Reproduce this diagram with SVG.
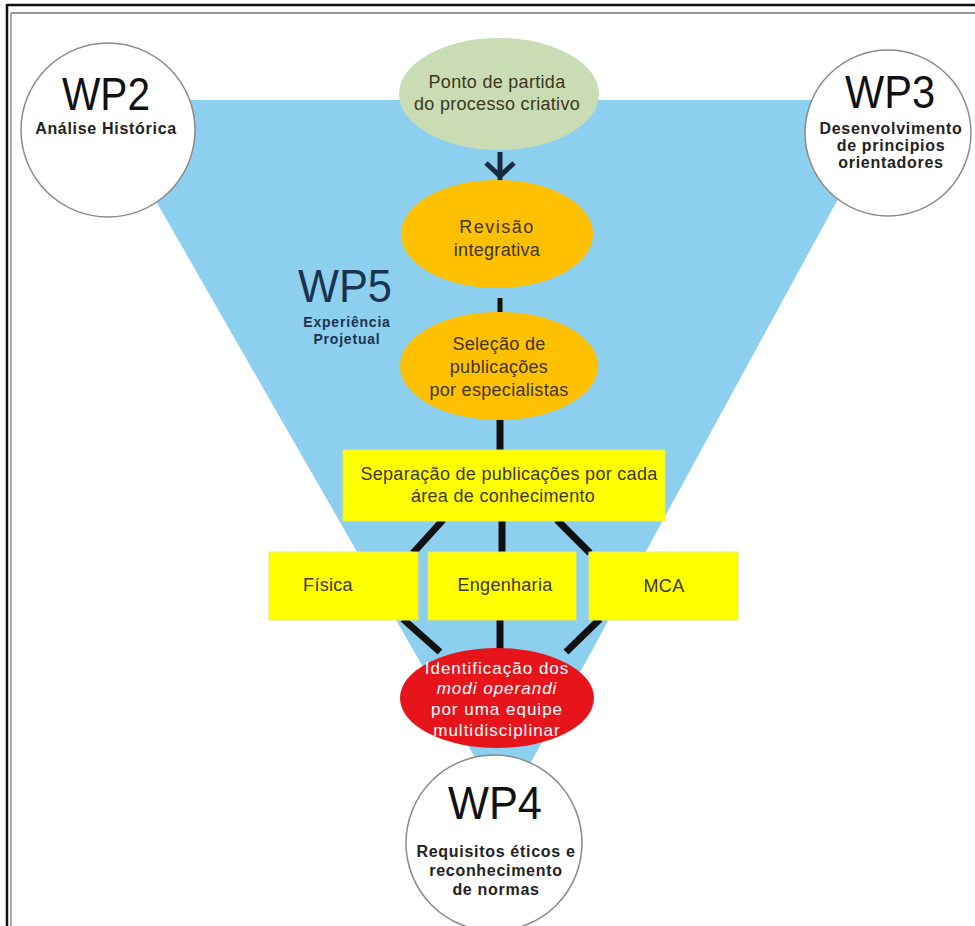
<svg xmlns="http://www.w3.org/2000/svg" width="975" height="926" viewBox="0 0 975 926">
<style>
.wp{font-family:"Liberation Sans",Arial,sans-serif;font-size:47px;fill:#111;text-anchor:middle}
.wps{font-family:"Liberation Sans",Arial,sans-serif;font-size:16px;font-weight:bold;fill:#222;text-anchor:middle;letter-spacing:0.7px}
.t{font-family:"Liberation Sans",Arial,sans-serif;font-size:18px;fill:#3f3620;text-anchor:middle;letter-spacing:0.3px}
.w{font-family:"Liberation Sans",Arial,sans-serif;font-size:17px;fill:#fff;text-anchor:middle;letter-spacing:1px}
.circ{fill:#fff;stroke:#8a8a8a;stroke-width:1.5}
.box{fill:#ffff00;stroke:#e8e860;stroke-width:1}
.ln{stroke:#111;stroke-width:7;fill:none}
</style>
<rect width="975" height="926" fill="#fff"/>
<g id="frame">
<line x1="7" y1="5" x2="975" y2="5" stroke="#111" stroke-width="2.5"/>
<line x1="7" y1="4" x2="7" y2="926" stroke="#111" stroke-width="2.5"/>
<line x1="11" y1="13" x2="975" y2="13" stroke="#999" stroke-width="2"/>
<line x1="11" y1="13" x2="11" y2="926" stroke="#aaa" stroke-width="2"/>
</g>
<g id="funnel"><polygon points="98,100 892,100 505,810" fill="#8ccfee"/></g>
<g id="connectors">
<line x1="500" y1="152" x2="500" y2="185" stroke="#1b2a44" stroke-width="5"/>
<polyline points="486,163 500,176 514,163" fill="none" stroke="#1b2a44" stroke-width="5"/>
<line x1="500" y1="298" x2="500" y2="312" stroke="#111" stroke-width="5"/>
<line class="ln" x1="500" y1="418" x2="500" y2="452"/>
<line class="ln" x1="443" y1="520" x2="413" y2="553"/>
<line class="ln" x1="502" y1="520" x2="502" y2="553"/>
<line class="ln" x1="557" y1="520" x2="590" y2="553"/>
<line class="ln" x1="403" y1="619" x2="440" y2="652"/>
<line class="ln" x1="500" y1="619" x2="500" y2="650"/>
<line class="ln" x1="600" y1="619" x2="566" y2="652"/>
</g>
<g id="wp2">
<circle class="circ" cx="108" cy="130" r="87"/>
<text class="wp" x="106" y="110" textLength="88" lengthAdjust="spacingAndGlyphs">WP2</text>
<text class="wps" x="106" y="134">Análise Histórica</text>
</g>
<g id="wp3">
<circle class="circ" cx="888" cy="133" r="83"/>
<text class="wp" x="890" y="108" textLength="90" lengthAdjust="spacingAndGlyphs">WP3</text>
<text class="wps" x="891" y="134">Desenvolvimento</text>
<text class="wps" x="891" y="151">de principios</text>
<text class="wps" x="891" y="168">orientadores</text>
</g>
<g id="wp5">
<text class="wp" x="345" y="302" textLength="94" lengthAdjust="spacingAndGlyphs" style="fill:#1c3350;font-size:46px">WP5</text>
<text class="wps" x="347" y="327" style="fill:#1c3350;font-size:14px;letter-spacing:0.8px">Experiência</text>
<text class="wps" x="347" y="344" style="fill:#1c3350;font-size:14px;letter-spacing:0.8px">Projetual</text>
</g>
<g id="start">
<ellipse cx="499" cy="94" rx="100" ry="56" fill="#c9dcb3"/>
<text class="t" x="497" y="88">Ponto de partida</text>
<text class="t" x="497" y="110">do processo criativo</text>
</g>
<g id="revisao">
<ellipse cx="497" cy="234" rx="96" ry="54" fill="#ffc000"/>
<text class="t" x="497" y="233" style="letter-spacing:1.5px">Revisão</text>
<text class="t" x="497" y="256">integrativa</text>
</g>
<g id="selecao">
<ellipse cx="499" cy="366" rx="99" ry="54" fill="#ffc000"/>
<text class="t" x="499" y="350">Seleção de</text>
<text class="t" x="499" y="373">publicações</text>
<text class="t" x="499" y="396">por especialistas</text>
</g>
<g id="separacao">
<rect class="box" x="343" y="450" width="322" height="71"/>
<text class="t" x="509" y="480">Separação de publicações por cada</text>
<text class="t" x="503" y="502">área de conhecimento</text>
</g>
<g id="fisica">
<rect class="box" x="269" y="552" width="149" height="68"/>
<text class="t" x="328" y="591">Física</text>
</g>
<g id="engenharia">
<rect class="box" x="428" y="552" width="148" height="68"/>
<text class="t" x="505" y="591">Engenharia</text>
</g>
<g id="mca">
<rect class="box" x="589" y="552" width="149" height="68"/>
<text class="t" x="664" y="592">MCA</text>
</g>
<g id="identificacao">
<ellipse cx="497" cy="698" rx="97" ry="50" fill="#e8141c"/>
<text class="w" x="497" y="674">Identificação dos</text>
<text class="w" x="497" y="694" font-style="italic">modi  operandi</text>
<text class="w" x="497" y="715">por uma equipe</text>
<text class="w" x="497" y="736">multidisciplinar</text>
</g>
<g id="wp4">
<circle class="circ" cx="494" cy="843" r="88"/>
<text class="wp" x="495" y="819" textLength="94" lengthAdjust="spacingAndGlyphs">WP4</text>
<text class="wps" x="496" y="857">Requisitos éticos e</text>
<text class="wps" x="496" y="876">reconhecimento</text>
<text class="wps" x="496" y="895">de normas</text>
</g>
</svg>
